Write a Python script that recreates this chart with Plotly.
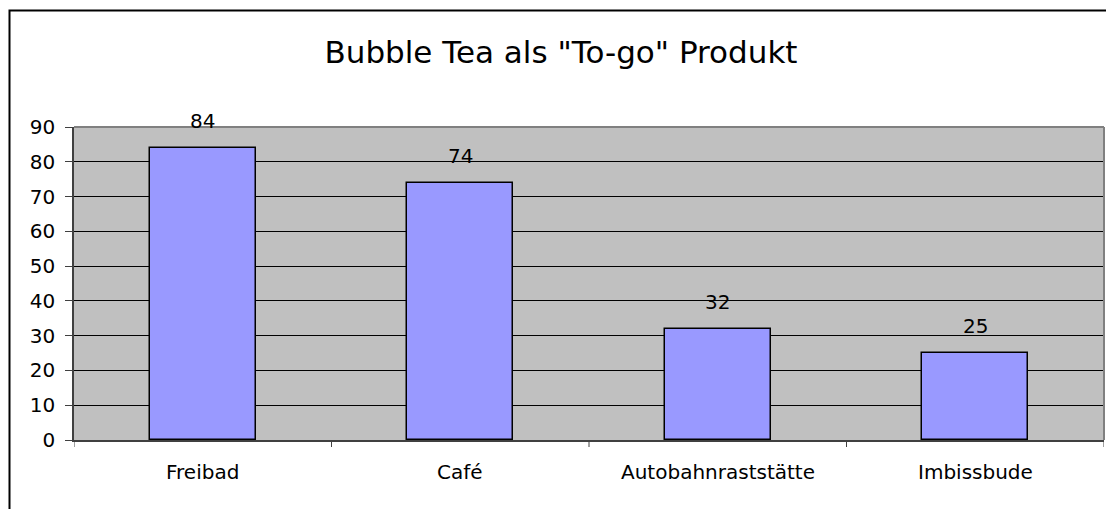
import plotly.graph_objects as go

categories = ["Freibad", "Café", "Autobahnraststätte", "Imbissbude"]
values = [84, 74, 32, 25]
title_text = 'Bubble Tea als "To-go" Produkt'
y_ticks = [0, 10, 20, 30, 40, 50, 60, 70, 80, 90]

W, H = 1114, 509
OFF = 8  # page body margin offset
# target page-pixel positions of the plot area
PL, PR, PT, PB = 74, 1104, 127, 440
L, T = PL - OFF, PT - OFF
R, B = W - (PR - OFF), H - (PB - OFF)
pw, ph = W - L - R, H - T - B

font = "DejaVu Sans, Liberation Sans, Arial, sans-serif"

fig = go.Figure()
fig.add_trace(go.Bar(
    x=list(range(len(categories))), y=values,
    width=0.41,
    marker=dict(color="#9999FF", line=dict(color="black", width=1.5)),
    hoverinfo="skip",
))

annotations = []
for i, v in enumerate(values):
    annotations.append(dict(x=i, y=v, xref="x", yref="y", text=str(v), showarrow=False,
                            yshift=27, font=dict(family=font, size=20, color="black")))
for i, c in enumerate(categories):
    annotations.append(dict(x=i, y=0, xref="x", yref="y", text=c, showarrow=False,
                            yshift=-32, font=dict(family=font, size=20, color="black")))

def px_x(p):  # page px -> paper x
    return (p - PL) / (PR - PL)

def px_y(p):  # page px -> paper y
    return (PB - p) / (PB - PT)

shapes = [
    dict(type="rect", xref="paper", yref="paper",
         x0=px_x(9.5), x1=px_x(W + 20), y0=px_y(H + 20), y1=px_y(10.5),
         line=dict(color="black", width=2), fillcolor="rgba(0,0,0,0)", layer="below"),
    dict(type="line", xref="paper", yref="paper", x0=0, x1=1, y0=1, y1=1,
         line=dict(color="#808080", width=2)),
    dict(type="line", xref="paper", yref="paper", x0=1, x1=1, y0=0, y1=1,
         line=dict(color="#808080", width=2)),
]
for k in range(len(categories) + 1):
    shapes.append(dict(type="line", xref="x", yref="paper", x0=k - 0.5, x1=k - 0.5,
                       y0=0, y1=-7 / ph, line=dict(color="#404040", width=1)))

fig.update_layout(
    width=W, height=H,
    margin=dict(l=L, r=R, t=T, b=B),
    paper_bgcolor="white",
    plot_bgcolor="#C0C0C0",
    showlegend=False,
    title=dict(text=title_text, x=(561 - OFF) / W, xanchor="center",
               y=1 - (52 - OFF) / H, yanchor="middle",
               font=dict(family=font, size=31, color="black")),
    xaxis=dict(range=[-0.5, len(categories) - 0.5], showticklabels=False, showgrid=False,
               zeroline=False, showline=True, linecolor="#404040", linewidth=2, ticks=""),
    yaxis=dict(range=[0, 90], tickvals=y_ticks, showgrid=True, gridcolor="black", gridwidth=1,
               zeroline=False, showline=True, linecolor="#404040", linewidth=1.5,
               ticks="outside", ticklen=7, tickcolor="#404040", ticklabelstandoff=6,
               tickfont=dict(family=font, size=20, color="black")),
    annotations=annotations,
    shapes=shapes,
    bargap=0,
)

fig.write_html("out.html")
